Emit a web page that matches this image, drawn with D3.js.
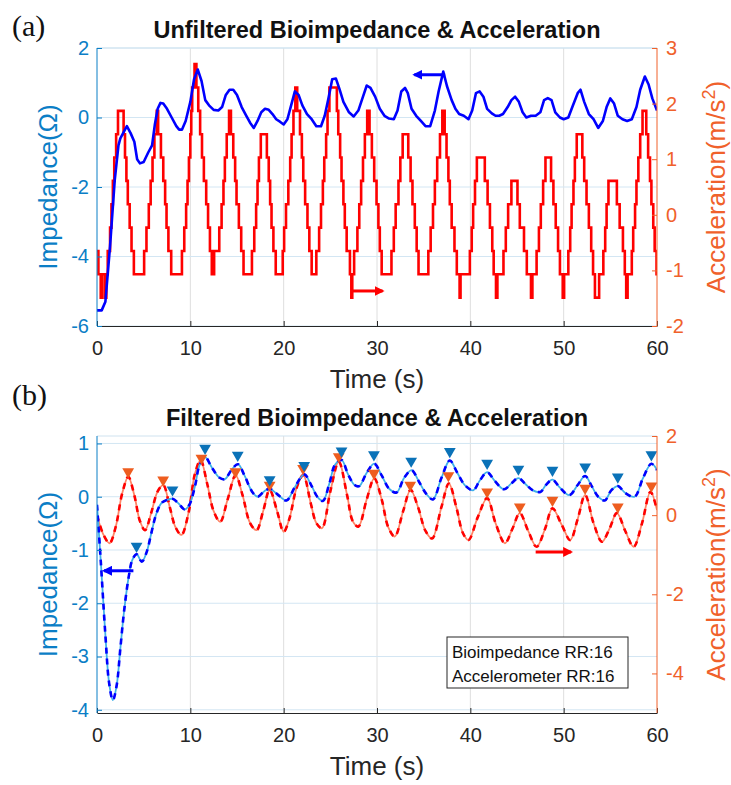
<!DOCTYPE html>
<html>
<head>
<meta charset="utf-8">
<script src="https://cdn.jsdelivr.net/npm/d3@7"></script>
<style>
  body { margin: 0; background: #fff; }
  svg { display: block; font-family: "Liberation Sans", Arial, Helvetica, sans-serif; }
</style>
</head>
<body>
<script>
// ---- data ----
const timeTicks = [0, 10, 20, 30, 40, 50, 60];
const rawImpTicks = [-6, -4, -2, 0, 2];
const rawAccTicks = [-2, -1, 0, 1, 2, 3];
const filtImpTicks = [-4, -3, -2, -1, 0, 1];
const filtAccTicks = [-4, -2, 0, 2];

// (a) unfiltered impedance [t, ohm]
const rawImp = [[0,-5.55],[0.5,-5.55],[0.9,-5.3],[1.4,-3.7],[1.9,-1.8],[2.3,-0.8],[2.5,-0.6],[2.9,-0.4],[3.2,-0.25],
  [3.6,-0.45],[4.0,-0.7],[4.3,-1.2],[4.6,-1.32],[5.0,-1.28],[5.5,-1.0],[5.9,-0.8],[6.2,-0.2],[6.5,0.25],[6.8,0.42],
  [7.1,0.4],[7.5,0.25],[8.0,0.0],[8.5,-0.25],[8.8,-0.35],[9.1,-0.35],[9.5,-0.1],[10.0,0.45],[10.4,1.1],[10.8,1.38],
  [11.2,1.05],[11.6,0.5],[12.0,0.35],[12.5,0.22],[13.0,0.2],[13.4,0.3],[13.8,0.65],[14.2,0.8],[14.6,0.8],[15.0,0.65],
  [15.5,0.3],[16.0,0.05],[16.4,-0.15],[16.8,-0.3],[17.2,-0.1],[17.6,0.15],[18.0,0.25],[18.4,0.22],[18.8,0.1],
  [19.2,-0.05],[19.6,-0.12],[20.0,-0.2],[20.4,-0.05],[20.8,0.35],[21.2,0.75],[21.6,0.65],[22.0,0.35],[22.5,0.1],
  [23.0,-0.05],[23.5,-0.25],[24.0,-0.25],[24.4,0.05],[24.8,0.55],[25.2,1.1],[25.6,1.12],[26.0,0.8],[26.4,0.45],
  [27.0,0.15],[27.5,0.03],[28.0,0.2],[28.5,0.6],[28.9,0.92],[29.3,0.85],[29.8,0.6],[30.3,0.25],[30.8,0.05],
  [31.3,-0.03],[31.8,-0.05],[32.2,0.2],[32.6,0.75],[33.0,0.85],[33.3,0.7],[33.7,0.25],[34.2,0.05],[34.7,-0.1],
  [35.2,-0.25],[35.7,-0.25],[36.2,0.2],[36.6,0.75],[37.1,1.32],[37.5,0.9],[38.0,0.5],[38.4,0.25],[38.8,0.1],
  [39.3,0.05],[39.8,-0.05],[40.2,0.2],[40.6,0.7],[41.0,0.75],[41.4,0.6],[41.8,0.25],[42.3,0.12],[42.7,0.05],
  [43.1,0.05],[43.5,0.1],[44.0,0.3],[44.4,0.5],[44.8,0.6],[45.2,0.45],[45.6,0.15],[46.0,0.0],[46.5,0.05],
  [47.0,0.05],[47.5,0.15],[47.9,0.5],[48.3,0.56],[48.7,0.5],[49.1,0.15],[49.6,0.0],[50.0,-0.05],[50.5,0.0],
  [51.0,0.35],[51.5,0.7],[51.8,0.8],[52.2,0.45],[52.7,0.1],[53.2,-0.05],[53.7,-0.3],[54.2,-0.1],[54.6,0.3],
  [55.0,0.55],[55.4,0.4],[55.8,0.05],[56.3,-0.05],[56.8,-0.1],[57.3,-0.05],[57.8,0.3],[58.2,0.8],[58.7,1.18],
  [59.1,0.95],[59.5,0.55],[60.0,0.2]];

// (a) unfiltered acceleration, quantised steps [t start, m/s^2]
const rawAcc = [[0,-0.65],[0.15,-1.07],[0.4,-1.49],[0.55,-1.07],[0.85,-1.49],[1.0,-1.07],
  [1.15,-0.65],[1.4,-0.23],[1.55,0.19],[1.7,0.61],[1.85,1.03],[2.05,1.45],[2.25,1.87],[2.85,1.45],[3.0,1.03],
  [3.15,0.61],[3.3,0.19],[3.5,-0.23],[3.7,-0.65],[3.95,-1.07],
  [5.05,-0.65],[5.3,-0.23],[5.55,0.19],[5.75,0.61],[5.95,1.03],[6.15,1.45],[6.4,1.87],[6.55,1.45],[6.85,1.03],
  [7.1,0.61],[7.3,0.19],[7.45,-0.23],[7.65,-0.65],[7.95,-1.07],
  [9.1,-0.65],[9.35,-0.23],[9.55,0.19],[9.7,0.61],[9.85,1.03],[10.0,1.45],[10.1,1.87],[10.2,2.29],[10.45,2.71],
  [10.65,2.29],[10.85,1.87],[11.05,1.45],[11.25,1.03],[11.45,0.61],[11.7,0.19],[11.9,-0.23],[12.1,-0.65],
  [12.3,-1.07],[12.55,-0.65],
  [13.1,-0.23],[13.35,0.19],[13.55,0.61],[13.7,1.03],[13.9,1.45],[14.15,1.87],[14.35,1.45],[14.6,1.03],
  [14.8,0.61],[14.95,0.19],[15.2,-0.23],[15.45,-0.65],[15.7,-1.07],
  [16.6,-0.65],[16.85,-0.23],[17.05,0.19],[17.2,0.61],[17.35,1.03],[17.55,1.45],[18.2,1.03],[18.4,0.61],
  [18.55,0.19],[18.7,-0.23],[18.9,-0.65],[19.15,-1.07],
  [19.9,-0.65],[20.05,-0.23],[20.25,0.19],[20.5,0.61],[20.7,1.03],[20.85,1.45],[21.05,1.87],[21.25,2.29],
  [21.45,1.87],[21.75,1.45],[21.95,1.03],[22.1,0.61],[22.3,0.19],[22.55,-0.23],[22.75,-0.65],[23.0,-1.07],
  [23.5,-0.65],
  [23.8,-0.23],[24.0,0.19],[24.2,0.61],[24.35,1.03],[24.55,1.45],[24.7,1.87],[24.9,2.29],[25.7,1.87],[25.85,1.45],
  [26.05,1.03],[26.2,0.61],[26.4,0.19],[26.55,-0.23],[26.75,-0.65],[27.1,-1.07],[27.25,-1.49],[27.35,-1.07],
  [27.55,-0.65],
  [27.9,-0.23],[28.1,0.19],[28.3,0.61],[28.5,1.03],[28.7,1.45],[28.95,1.87],[29.2,1.45],[29.45,1.03],[29.7,0.61],
  [29.95,0.19],[30.15,-0.23],[30.3,-0.65],[30.5,-1.07],
  [31.55,-0.65],[31.8,-0.23],[32.0,0.19],[32.3,0.61],[32.5,1.03],[32.75,1.45],[33.35,1.03],[33.6,0.61],
  [33.8,0.19],[34.05,-0.23],[34.25,-0.65],[34.45,-1.07],
  [35.5,-0.65],[35.75,-0.23],[36.0,0.19],[36.2,0.61],[36.45,1.03],[36.75,1.45],[37.0,1.87],[37.25,1.45],
  [37.45,1.03],[37.65,0.61],[37.8,0.19],[38.0,-0.23],[38.3,-0.65],[38.55,-1.07],[38.85,-1.49],[38.95,-1.07],
  [39.95,-0.65],[40.15,-0.23],[40.3,0.19],[40.5,0.61],[40.7,1.03],[41.55,0.61],[41.85,0.19],[42.1,-0.23],
  [42.35,-0.65],[42.5,-1.07],[42.75,-1.49],[42.9,-1.07],
  [43.55,-0.65],[43.8,-0.23],[44.05,0.19],[44.4,0.61],[45.05,0.19],[45.3,-0.23],[45.75,-0.65],[46.05,-1.07],
  [46.5,-1.49],[46.65,-1.07],
  [47.1,-0.65],[47.35,-0.23],[47.55,0.19],[47.8,0.61],[48.05,1.03],[48.65,0.61],[48.9,0.19],[49.15,-0.23],
  [49.4,-0.65],[49.6,-1.07],[49.9,-1.49],[50.05,-1.07],
  [50.5,-0.65],[50.7,-0.23],[50.85,0.19],[51.05,0.61],[51.2,1.03],[51.4,1.45],[52.0,1.03],[52.2,0.61],
  [52.45,0.19],[52.7,-0.23],[52.95,-0.65],[53.15,-1.07],[53.35,-1.49],[53.8,-1.07],
  [54.25,-0.65],[54.45,-0.23],[54.6,0.19],[54.8,0.61],[55.7,0.19],[56.0,-0.23],[56.35,-0.65],[56.55,-1.07],
  [56.7,-1.49],[56.85,-1.07],
  [57.3,-0.65],[57.45,-0.23],[57.65,0.19],[57.8,0.61],[58.0,1.03],[58.2,1.45],[58.45,1.87],[58.85,1.45],
  [59.05,1.03],[59.25,0.61],[59.4,0.19],[59.6,-0.23],[59.75,-0.65],[59.95,-1.07],[60,-1.07]];

// (b) filtered impedance [t, ohm]
const filtImp = [[0,-0.15],[0.4,-1.2],[0.9,-2.6],[1.3,-3.5],[1.7,-3.82],[2.1,-3.55],[2.5,-2.85],[2.9,-2.15],
  [3.4,-1.5],[3.8,-1.18],[4.25,-1.08],[4.8,-1.22],[5.3,-1.05],[5.8,-0.7],[6.3,-0.35],[6.9,-0.12],[7.5,-0.06],
  [8.1,-0.04],[8.7,-0.12],[9.4,-0.24],[9.9,-0.15],[10.5,0.2],[11.0,0.6],[11.6,0.74],[12.3,0.55],[13.1,0.36],
  [13.7,0.33],[14.4,0.5],[15.1,0.61],[15.8,0.4],[16.6,0.1],[17.2,0.0],[17.9,0.1],[18.5,0.15],[19.3,0.05],
  [20.3,-0.07],[21.2,0.18],[22.2,0.42],[23.0,0.2],[23.6,0.0],[24.2,-0.08],[24.9,0.25],[25.5,0.6],[26.2,0.69],
  [26.9,0.42],[27.6,0.22],[28.1,0.2],[28.9,0.45],[29.7,0.62],[30.5,0.4],[31.3,0.15],[32.1,0.08],[32.9,0.35],
  [33.7,0.5],[34.5,0.28],[35.3,0.05],[36.0,-0.05],[36.9,0.35],[37.8,0.68],[38.6,0.45],[39.4,0.22],[40.3,0.12],
  [41.0,0.3],[41.8,0.46],[42.6,0.3],[43.6,0.14],[44.4,0.25],[45.15,0.35],[45.9,0.24],[46.7,0.12],[47.5,0.09],
  [48.1,0.22],[48.8,0.32],[49.6,0.17],[50.6,0.03],[51.5,0.22],[52.3,0.39],[53.0,0.2],[53.7,0.0],[54.4,-0.07],
  [55.1,0.12],[55.8,0.2],[56.6,0.07],[57.6,0.0],[58.5,0.35],[59.4,0.62],[60,0.5]];

// (b) filtered acceleration [t, m/s^2]
const filtAcc = [[0,0.0],[0.7,-0.5],[1.35,-0.71],[2.0,-0.3],[2.7,0.55],[3.35,0.97],[4.0,0.5],[4.6,-0.15],
  [5.15,-0.38],[5.8,0.05],[6.5,0.6],[7.1,0.76],[7.8,0.2],[8.4,-0.3],[9.05,-0.5],[9.8,0.05],[10.5,1.05],[11.1,1.39],
  [11.8,0.8],[12.5,0.1],[13.2,-0.17],[14.0,0.4],[14.85,1.01],[15.6,0.5],[16.4,-0.2],[17.1,-0.38],[17.8,0.1],
  [18.5,0.64],[19.3,0.1],[20.0,-0.42],[20.6,-0.1],[21.4,0.7],[22.1,1.01],[22.9,0.3],[23.5,-0.2],[24.1,-0.33],
  [25.0,0.6],[25.9,1.35],[26.8,0.5],[27.4,-0.15],[28.0,-0.29],[28.9,0.4],[29.7,0.93],[30.5,0.4],[31.2,-0.3],
  [31.9,-0.54],[32.8,0.1],[33.6,0.64],[34.4,0.2],[35.2,-0.4],[35.9,-0.59],[36.9,0.2],[37.7,0.8],[38.5,0.2],
  [39.2,-0.45],[39.8,-0.63],[40.8,-0.05],[41.8,0.43],[42.7,-0.2],[43.7,-0.71],[44.5,-0.35],[45.3,0.05],
  [46.2,-0.4],[47.1,-0.8],[48.0,-0.35],[48.8,0.17],[49.8,-0.25],[50.7,-0.63],[51.5,-0.1],[52.3,0.51],[53.2,-0.2],
  [54.1,-0.67],[54.9,-0.35],[55.7,0.05],[56.6,-0.4],[57.5,-0.8],[58.4,-0.2],[59.3,0.59],[60,0.13]];

// detected peaks (marker positions)
const impPeakT = [4.24, 8.09, 11.58, 15.08, 18.5, 22.2, 26.2, 29.67, 33.66, 37.8, 41.8, 45.15, 48.8, 52.3, 55.8, 59.4];
const impPeakV = [-0.93, 0.13, 0.91, 0.78, 0.32, 0.59, 0.86, 0.79, 0.67, 0.85, 0.63, 0.52, 0.5, 0.56, 0.37, 0.79];
const accPeakT = [3.34, 7.09, 11.19, 14.84, 18.5, 22.08, 25.9, 29.67, 33.56, 37.65, 41.8, 45.3, 48.8, 52.3, 55.8, 59.4];
const accPeakV = [1.10, 0.89, 1.44, 1.10, 0.76, 1.18, 1.48, 1.06, 0.76, 1.0, 0.59, 0.21, 0.38, 0.68, 0.21, 0.74];

const legendLines = ["Bioimpedance RR:16", "Accelerometer RR:16"];

// ---- drawing ----
const W = 731, H = 785;
const X0 = 97, X1 = 657;
const blueAx = "#0b7ec6", orangeAx = "#f0612b", dark = "#262626";

const svg = d3.select("body").append("svg").attr("width", W).attr("height", H);

const defs = svg.append("defs");
function arrowHead(id, color) {
  defs.append("marker").attr("id", id)
    .attr("viewBox", "0 0 10 10").attr("refX", 8).attr("refY", 5)
    .attr("markerUnits", "userSpaceOnUse").attr("markerWidth", 10).attr("markerHeight", 10)
    .attr("orient", "auto")
    .append("path").attr("d", "M0,0L10,5L0,10Z").attr("fill", color);
}
arrowHead("ahBlue", "#0000ff");
arrowHead("ahRed", "#ff0000");

function panel(o) {
  const g = svg.append("g");
  const x = d3.scaleLinear().domain([0, 60]).range([X0, X1]);
  const yL = d3.scaleLinear().domain(o.left).range([o.bottom, o.top]);
  const yR = d3.scaleLinear().domain(o.right).range([o.bottom, o.top]);

  // grid
  g.append("g").selectAll("line").data(timeTicks.slice(1, -1)).join("line")
    .attr("x1", x).attr("x2", x).attr("y1", o.top).attr("y2", o.bottom)
    .attr("stroke", "#dedede").attr("stroke-width", 1);
  g.append("g").selectAll("line").data(o.leftTicks).join("line")
    .attr("x1", X0).attr("x2", X1).attr("y1", yL).attr("y2", yL)
    .attr("stroke", "#d3e6f3").attr("stroke-width", 1);
  g.append("line").attr("x1", X0).attr("x2", X1).attr("y1", o.top).attr("y2", o.top)
    .attr("stroke", "#cfe2ef");

  defs.append("clipPath").attr("id", o.id + "clip")
    .append("rect").attr("x", X0).attr("y", o.top).attr("width", X1 - X0).attr("height", o.bottom - o.top);
  const plot = g.append("g").attr("clip-path", `url(#${o.id}clip)`);

  // axes
  const fmt = d => String(d);
  const ax = g.append("g").attr("transform", `translate(0,${o.bottom})`)
    .call(d3.axisBottom(x).tickValues(timeTicks).tickFormat(fmt).tickSizeInner(-5).tickSizeOuter(0).tickPadding(15));
  const al = g.append("g").attr("transform", `translate(${X0},0)`)
    .call(d3.axisLeft(yL).tickValues(o.leftTicks).tickFormat(fmt).tickSizeInner(-5).tickSizeOuter(0).tickPadding(8));
  const ar = g.append("g").attr("transform", `translate(${X1},0)`)
    .call(d3.axisRight(yR).tickValues(o.rightTicks).tickFormat(fmt).tickSizeInner(-5).tickSizeOuter(0).tickPadding(9));
  [[ax, dark], [al, blueAx], [ar, orangeAx]].forEach(([a, c]) => {
    a.attr("font-family", null).attr("font-size", 20).attr("color", c);
  });
  al.select(".domain").attr("d", `M0,${o.top}V${o.bottom}`);
  ar.select(".domain").attr("d", `M0,${o.top}V${o.bottom}`);

  // labels
  svg.append("text").attr("x", 377).attr("y", o.titleY).attr("text-anchor", "middle")
    .attr("font-weight", "bold").attr("font-size", 23.5).attr("fill", "#111").text(o.title);
  svg.append("text").attr("x", 12).attr("y", o.tagY).attr("font-family", "'Liberation Serif', 'Times New Roman', serif")
    .attr("font-size", 30).attr("fill", "#111").text(o.tag);
  svg.append("text").attr("x", 377).attr("y", o.bottom + 62).attr("text-anchor", "middle")
    .attr("font-size", 26).attr("fill", dark).text("Time (s)");
  const mid = (o.top + o.bottom) / 2;
  svg.append("text").attr("transform", `translate(57,${mid}) rotate(-90)`).attr("text-anchor", "middle")
    .attr("font-size", 26).attr("fill", blueAx).text("Impedance(\u03a9)");
  const rl = svg.append("text").attr("transform", `translate(725,${mid}) rotate(-90)`).attr("text-anchor", "middle")
    .attr("font-size", 26).attr("fill", orangeAx);
  rl.append("tspan").text("Acceleration(m/s");
  rl.append("tspan").attr("dy", -10).attr("font-size", 18).text("2");
  rl.append("tspan").attr("dy", 10).text(")");

  return { g, plot, x, yL, yR };
}

function arrow(g, xa, ya, xb, yb, color, head) {
  g.append("line").attr("x1", xa).attr("y1", ya).attr("x2", xb).attr("y2", yb)
    .attr("stroke", color).attr("stroke-width", 3).attr("marker-end", `url(#${head})`);
}

// (a)
const A = panel({ id: "a", top: 48, bottom: 326, left: [-6, 2], right: [-2, 3],
  leftTicks: rawImpTicks, rightTicks: rawAccTicks,
  title: "Unfiltered Bioimpedance & Acceleration", titleY: 38, tag: "(a)", tagY: 36 });

A.plot.append("path").datum(rawAcc)
  .attr("d", d3.line().curve(d3.curveStepAfter).x(d => A.x(d[0])).y(d => A.yR(d[1])))
  .attr("fill", "none").attr("stroke", "#ff0000").attr("stroke-width", 2.6).attr("stroke-linejoin", "miter");
A.plot.append("path").datum(rawImp)
  .attr("d", d3.line().x(d => A.x(d[0])).y(d => A.yL(d[1])))
  .attr("fill", "none").attr("stroke", "#0000ff").attr("stroke-width", 2.6).attr("stroke-linejoin", "round");
arrow(A.g, A.x(37.3), A.yL(1.23), A.x(34.0), A.yL(1.23), "#0000ff", "ahBlue");
arrow(A.g, A.x(27.3), A.yR(-1.37), A.x(30.6), A.yR(-1.37), "#ff0000", "ahRed");

// (b)
const B = panel({ id: "b", top: 436, bottom: 713, left: [-4.06, 1.14], right: [-5, 2],
  leftTicks: filtImpTicks, rightTicks: filtAccTicks,
  title: "Filtered Bioimpedance & Acceleration", titleY: 426, tag: "(b)", tagY: 405 });

const smooth = d3.curveCatmullRom.alpha(0.5);
const lineL = d3.line().curve(smooth).x(d => B.x(d[0])).y(d => B.yL(d[1]));
const lineR = d3.line().curve(smooth).x(d => B.x(d[0])).y(d => B.yR(d[1]));

B.plot.append("path").datum(filtAcc).attr("d", lineR)
  .attr("fill", "none").attr("stroke", "#ff8466").attr("stroke-width", 1.8);
B.plot.append("path").datum(filtAcc).attr("d", lineR)
  .attr("fill", "none").attr("stroke", "#ff0000").attr("stroke-width", 2.6).attr("stroke-dasharray", "6,5");
B.plot.append("path").datum(filtImp).attr("d", lineL)
  .attr("fill", "none").attr("stroke", "#3fb0ea").attr("stroke-width", 1.8);
B.plot.append("path").datum(filtImp).attr("d", lineL)
  .attr("fill", "none").attr("stroke", "#0000ff").attr("stroke-width", 2.6).attr("stroke-dasharray", "6,5");

const tri = d3.symbol(d3.symbolTriangle, 60);
B.plot.append("g").selectAll("path").data(accPeakT).join("path")
  .attr("d", tri).attr("fill", "#ee5d1f")
  .attr("transform", (t, i) => `translate(${B.x(t)},${B.yR(accPeakV[i])}) rotate(180)`);
B.plot.append("g").selectAll("path").data(impPeakT).join("path")
  .attr("d", tri).attr("fill", "#0a72b8")
  .attr("transform", (t, i) => `translate(${B.x(t)},${B.yL(impPeakV[i])}) rotate(180)`);

arrow(B.g, B.x(3.9), B.yL(-1.39), B.x(0.75), B.yL(-1.39), "#0000ff", "ahBlue");
arrow(B.g, B.x(47.0), B.yR(-0.93), B.x(50.8), B.yR(-0.93), "#ff0000", "ahRed");

// legend box
const lg = B.g.append("g").attr("transform", "translate(447,637)");
lg.append("rect").attr("width", 181).attr("height", 51).attr("fill", "#fff").attr("stroke", dark);
lg.selectAll("text").data(legendLines).join("text")
  .attr("x", 5).attr("y", (d, i) => 21 + i * 23.5)
  .attr("font-size", 17).attr("fill", "#111").text(d => d);
</script>
</body>
</html>
